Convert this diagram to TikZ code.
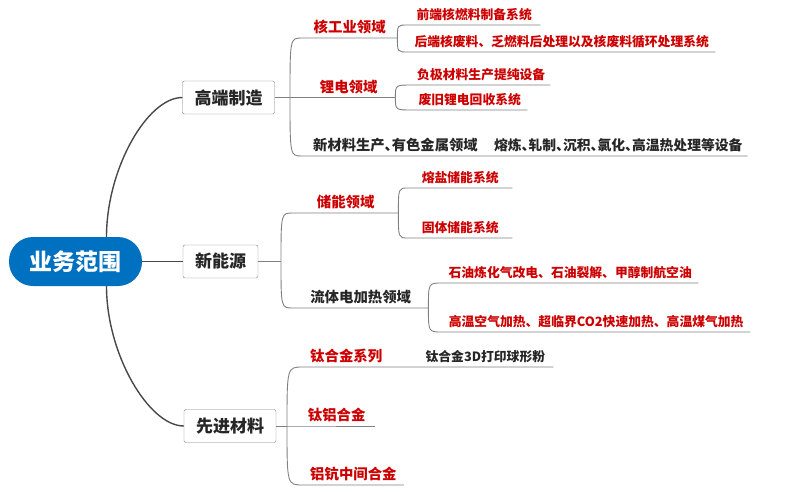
\documentclass[tikz,border=0pt]{standalone}
\usepackage{fontspec}
\setmainfont{Noto Sans CJK SC}
\newfontfamily\halfpunct[RawFeature=+halt]{Noto Sans CJK SC}
\usepackage{xcolor}
\usetikzlibrary{positioning}
\definecolor{rootblue}{RGB}{0,112,192}
\definecolor{itemred}{RGB}{204,0,0}
\definecolor{inkgray}{RGB}{38,38,38}
\definecolor{linegray}{RGB}{128,128,128}
\definecolor{trunkgray}{RGB}{72,72,72}

\begin{document}
\begin{tikzpicture}[x=1pt,y=-1pt,
    rootbox/.style={fill=rootblue,text=white,rounded corners=24pt,minimum width=133pt,minimum height=49pt,font=\fontsize{23}{26}\selectfont\bfseries},
    topbox/.style={draw=linegray,fill=white,rounded corners=2pt,minimum height=33pt,inner xsep=12pt,text=inkgray,font=\fontsize{17}{20}\selectfont\bfseries},
    area/.style={anchor=south west,inner xsep=0pt,inner ysep=5pt,text height=12pt,text depth=0pt,text=itemred,font=\fontsize{14.4}{16}\selectfont\bfseries},
    leaf/.style={area,font=\fontsize{12.8}{15}\selectfont\bfseries},
    plain/.style={text=inkgray},
    link/.style={draw=linegray,line width=0.9pt},
    trunk/.style={draw=trunkgray,line width=1.4pt}]
            \useasboundingbox (0,0) rectangle (800,492);

            % Main components
            \node[rootbox] (biz) at (75.5,261.5) {业务范围};
            \node[topbox] (mfg) at (228.5,97.5) {高端制造};
            \node[topbox] (energy) at (220.5,261.5) {新能源};
            \node[topbox] (matl) at (230,426) {先进材料};

            \coordinate (jmfg) at (290,97.5);
            \coordinate (jenergy) at (281,261.5);
            \coordinate (jmatl) at (287,426);

            % High-end manufacturing
            \node[area,minimum width=95pt] (nuc) at (302,38) {核工业领域};
            \node[leaf,minimum width=132pt] (front) at (408,25) {前端核燃料制备系统};
            \node[leaf,minimum width=307pt] (back) at (408,52) {后端核废料、乏燃料后处理以及核废料循环处理系统};
            \node[area,minimum width=93pt] (li) at (302,97.5) {锂电领域};
            \node[leaf,minimum width=138pt] (anode) at (412,85) {负极材料生产提纯设备};
            \node[leaf,minimum width=115pt] (recycle) at (412,110) {废旧锂电回收系统};
            \node[area,plain,inner xsep=11pt,font=\halfpunct\fontsize{14.3}{16}\selectfont\bfseries] (metal) at (302,156) {新材料生产、有色金属领域};
            \node[area,plain,inner xsep=5pt,right=0pt of metal,font=\halfpunct\fontsize{13.8}{16}\selectfont\bfseries] (equip) {熔炼、轧制、沉积、氯化、高温热处理等设备};

            % New energy
            \node[area,minimum width=105pt] (store) at (293,213) {储能领域};
            \node[leaf,minimum width=104pt] (salt) at (408,188) {熔盐储能系统};
            \node[leaf,minimum width=104pt] (solid) at (408,238) {固体储能系统};
            \node[area,plain,minimum width=135pt] (fluid) at (293,308) {流体电加热领域};
            \node[leaf,minimum width=256pt] (oil) at (442,283) {石油炼化气改电、石油裂解、甲醇制航空油};
            \node[leaf,minimum width=308pt] (air) at (442,332) {高温空气加热、超临界CO2快速加热、高温煤气加热};

            % Advanced materials
            \node[area,inner xsep=7pt] (ti) at (303,367) {钛合金系列};
            \node[leaf,plain,inner xsep=8pt,right=28pt of ti] (powder) {钛合金3D打印球形粉};
            \node[area,minimum width=77pt] (tial) at (298,426) {钛铝合金};
            \node[area,inner xsep=7pt] (alsc) at (303,485) {铝钪中间合金};

            % Connections
            \draw[trunk] ([xshift=31pt]biz.north) .. controls ([xshift=31pt,yshift=68pt]biz.north) and ([xshift=-35pt]mfg.west) .. (mfg.west);
            \draw[trunk] (biz.east) -- (energy.west);
            \draw[trunk] ([xshift=31pt]biz.south) .. controls ([xshift=31pt,yshift=-68pt]biz.south) and ([xshift=-35pt]matl.west) .. (matl.west);

            \draw[link] (mfg.east) -- (jmfg);
            \draw[link] (jmfg) .. controls (jmfg |- nuc.south west) .. (nuc.south west) -- (nuc.south east);
            \draw[link] (jmfg) -- (li.south west) -- (li.south east);
            \draw[link] (jmfg) .. controls (jmfg |- metal.south west) .. (metal.south west) -- (equip.south east);
            \draw[link] (nuc.south east) .. controls (nuc.south east |- front.south west) .. (front.south west) -- (front.south east);
            \draw[link] (nuc.south east) .. controls (nuc.south east |- back.south west) .. (back.south west) -- (back.south east);
            \draw[link] (li.south east) .. controls (li.south east |- anode.south west) .. (anode.south west) -- (anode.south east);
            \draw[link] (li.south east) .. controls (li.south east |- recycle.south west) .. (recycle.south west) -- (recycle.south east);

            \draw[link] (energy.east) -- (jenergy);
            \draw[link] (jenergy) .. controls (jenergy |- store.south west) .. (store.south west) -- (store.south east);
            \draw[link] (jenergy) .. controls (jenergy |- fluid.south west) .. (fluid.south west) -- (fluid.south east);
            \draw[link] (store.south east) .. controls (store.south east |- salt.south west) .. (salt.south west) -- (salt.south east);
            \draw[link] (store.south east) .. controls (store.south east |- solid.south west) .. (solid.south west) -- (solid.south east);
            \draw[link] (fluid.south east) .. controls (fluid.south east |- oil.south west) .. (oil.south west) -- (oil.south east);
            \draw[link] (fluid.south east) .. controls (fluid.south east |- air.south west) .. (air.south west) -- (air.south east);

            \draw[link] (matl.east) -- (jmatl);
            \draw[link] (jmatl) .. controls (jmatl |- ti.south west) .. (ti.south west) -- (powder.south east);
            \draw[link] (jmatl) -- (tial.south west) -- (tial.south east);
            \draw[link] (jmatl) .. controls (jmatl |- alsc.south west) .. (alsc.south west) -- (alsc.south east);
        \end{tikzpicture}
\end{document}
